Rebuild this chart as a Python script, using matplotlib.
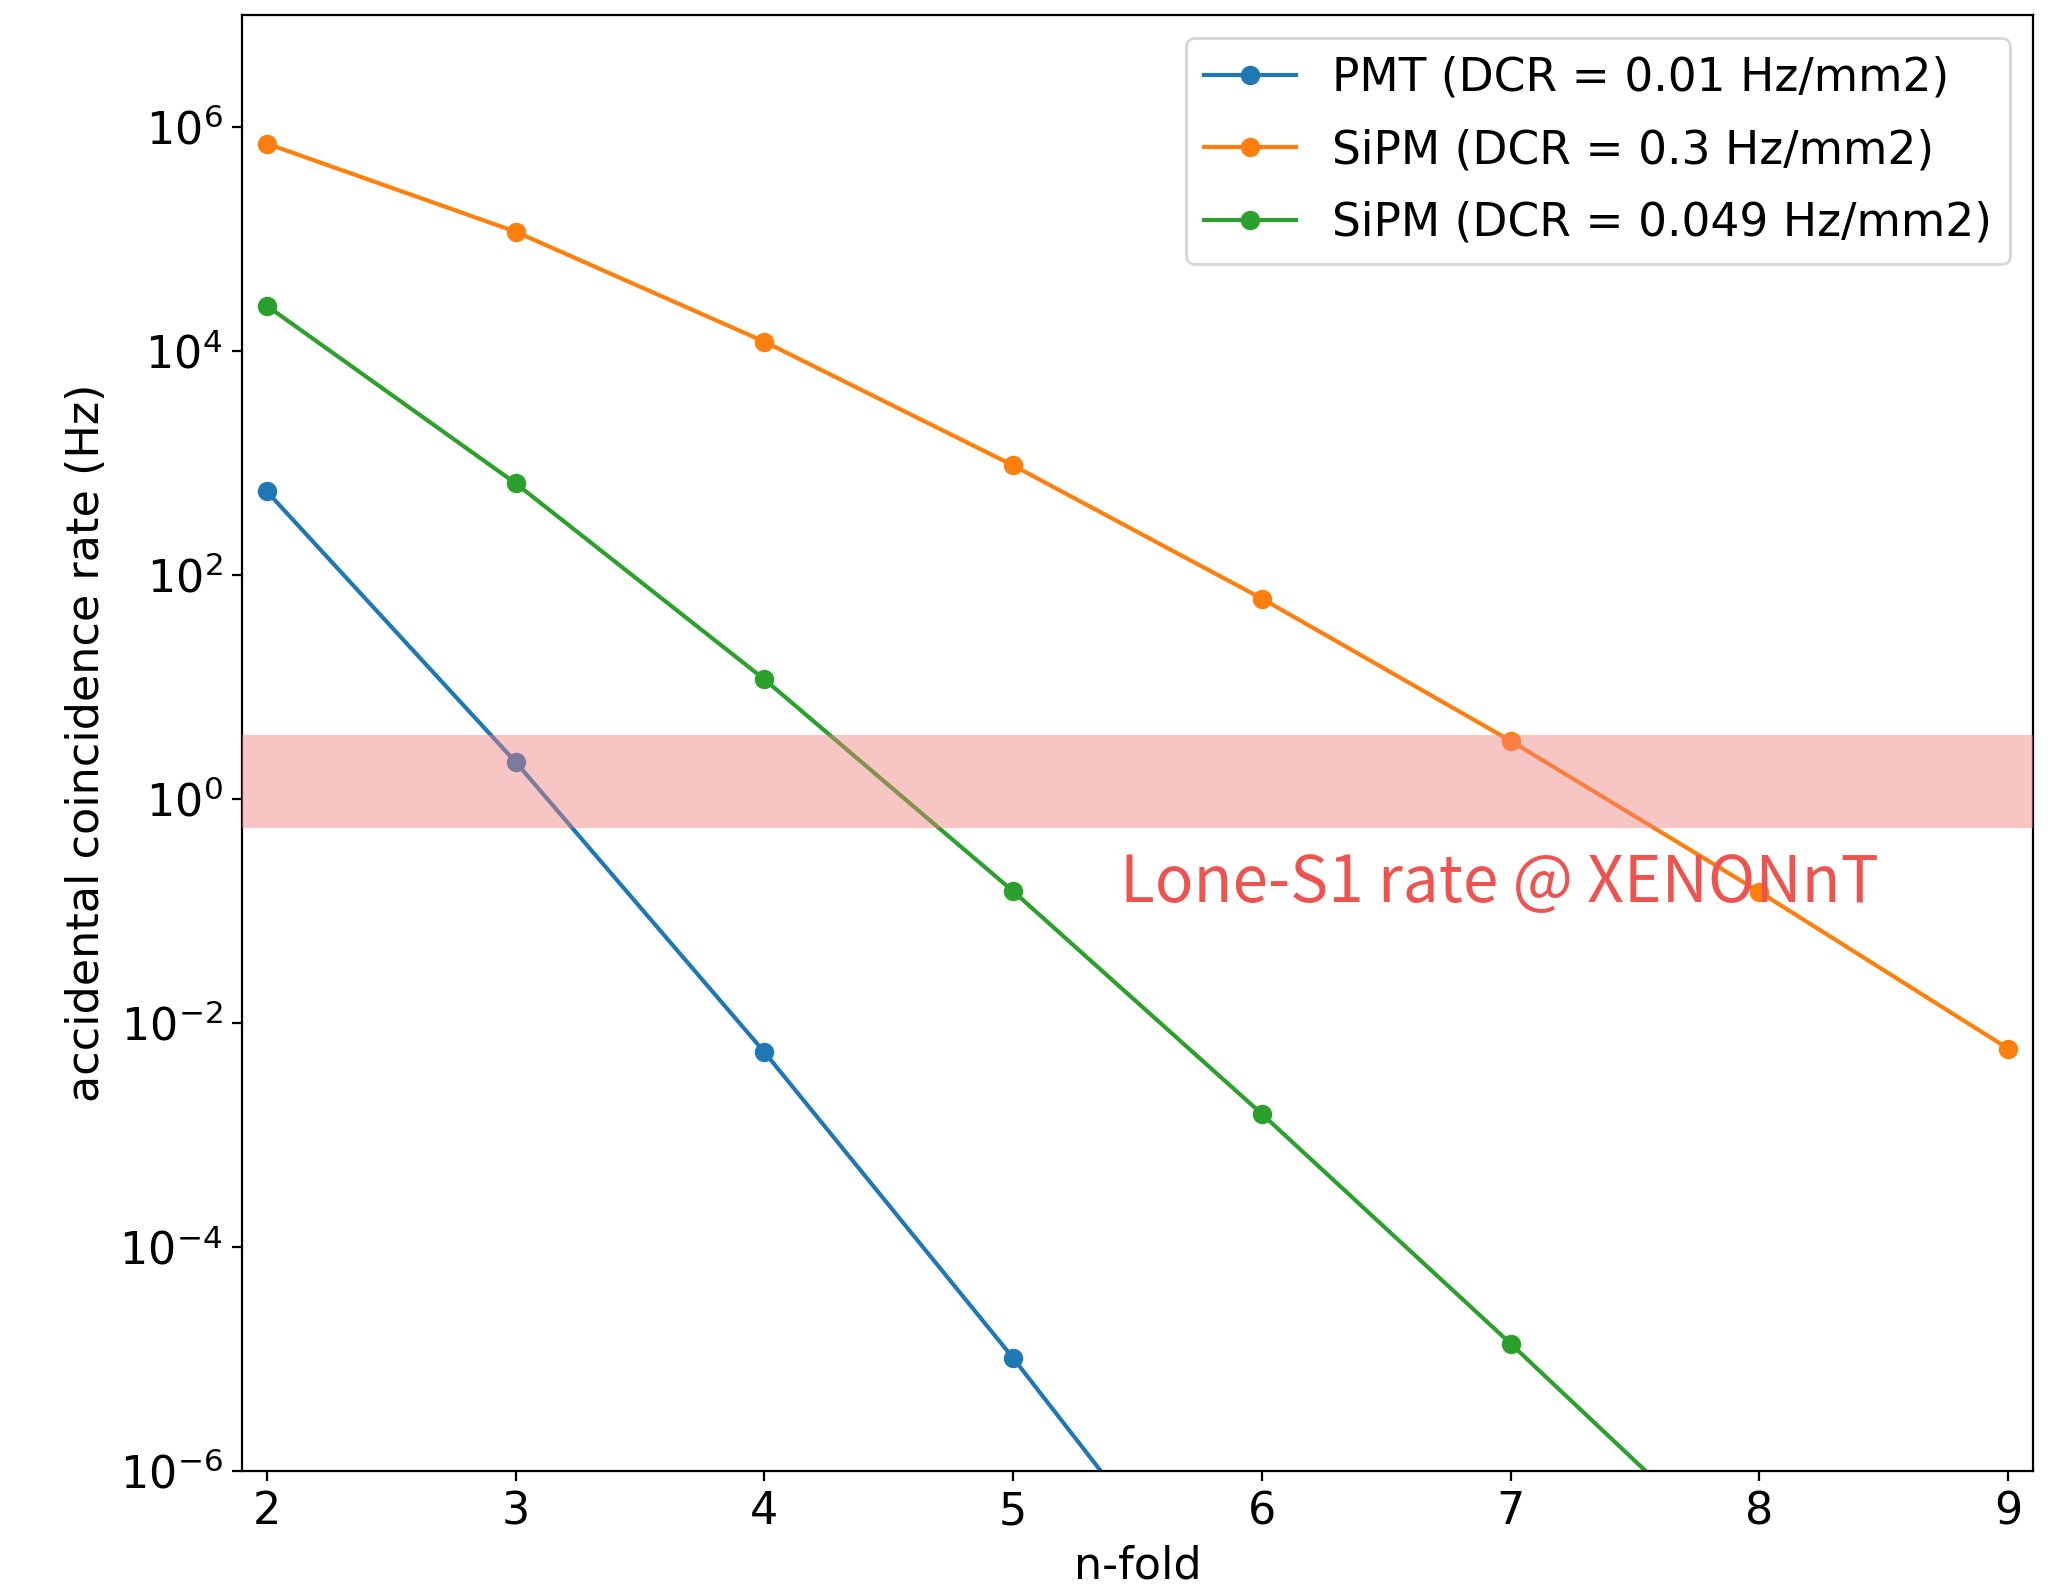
import matplotlib
matplotlib.use('Agg')
import matplotlib.pyplot as plt
from matplotlib.ticker import LogLocator, NullLocator

# coincidence multiplicity
n_fold = [2, 3, 4, 5, 6, 7, 8, 9]

# accidental coincidence rate (Hz) for each photosensor setup
rate_pmt = [5.57e2, 2.14e0, 5.5e-3, 1.02e-5, 1.4e-8, 1.6e-11, 1.5e-14, 1.2e-17]
rate_sipm_03 = [7.1e5, 1.16e5, 1.21e4, 9.5e2, 6.15e1, 3.3e0, 1.48e-1, 5.9e-3]
rate_sipm_0049 = [2.53e4, 6.58e2, 1.17e1, 1.5e-1, 1.54e-3, 1.37e-5, 1.1e-7, 8e-10]

labels = ['PMT (DCR = 0.01 Hz/mm2)',
          'SiPM (DCR = 0.3 Hz/mm2)',
          'SiPM (DCR = 0.049 Hz/mm2)']

# lone-S1 rate band (Hz)
lone_s1_low = 0.553
lone_s1_high = 3.73

font_size = 16
plt.rc('font', family='DejaVu Sans', size=font_size)

fig = plt.figure(figsize=(10.27, 7.94), dpi=200)
ax = fig.add_subplot(111)
fig.subplots_adjust(left=0.1178, right=0.9898, bottom=0.0737, top=0.9906)

ax.plot(n_fold, rate_pmt, marker='o', color='tab:blue', label=labels[0])
ax.plot(n_fold, rate_sipm_03, marker='o', color='tab:orange', label=labels[1])
ax.plot(n_fold, rate_sipm_0049, marker='o', color='tab:green', label=labels[2])

ax.set_yscale('log')
ax.set_xlim(1.9, 9.1)
ax.set_ylim(1e-6, 1e7)
ax.yaxis.set_major_locator(LogLocator(base=10, numticks=8))
ax.yaxis.set_minor_locator(NullLocator())

ax.set_xlabel('n-fold')
ax.set_ylabel('accidental coincidence rate (Hz)')
ax.legend(loc='upper right', fontsize=16.4, labelspacing=0.6)

# lone-S1 band drawn over the curves
ax.axhspan(lone_s1_low, lone_s1_high, color='lightcoral', alpha=0.45, lw=0, zorder=3)
ax.text(5.43, 0.12, 'Lone-S1 rate @ XENONnT', color='#ee534f', fontsize=23,
        family=['Noto Sans CJK JP', 'DejaVu Sans'], ha='left', va='baseline', zorder=4)

plt.savefig('out.png', dpi=200)
